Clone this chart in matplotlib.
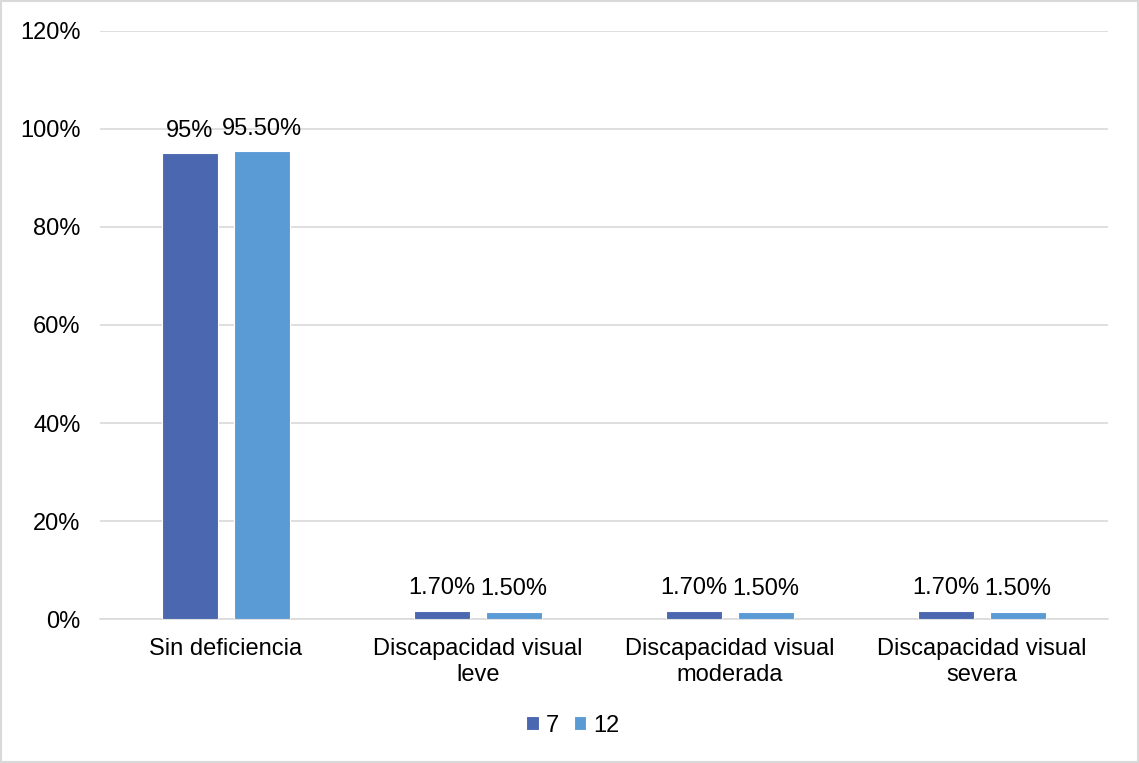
import matplotlib
matplotlib.use('Agg')
import matplotlib.pyplot as plt
import numpy as np

categories = ['Sin deficiencia', 'Discapacidad visual\nleve',
              'Discapacidad visual\nmoderada', 'Discapacidad visual\nsevera']
series_names = ['7', '12']
values_7 = [95, 1.7, 1.7, 1.7]
values_12 = [95.5, 1.5, 1.5, 1.5]
labels_7 = ['95%', '1.70%', '1.70%', '1.70%']
labels_12 = ['95.50%', '1.50%', '1.50%', '1.50%']
colors = ['#4A67B0', '#5B9BD5']

plt.rcParams['font.family'] = ['Liberation Sans', 'DejaVu Sans']
fs = 17

fig = plt.figure(figsize=(11.39, 7.63), dpi=100)
ax = fig.add_axes([0.0878, 0.1887, 0.885, 0.7707])

x = np.arange(len(categories))
w = 0.222
off = 0.143
b1 = ax.bar(x - off, values_7, w, color=colors[0], edgecolor='white', linewidth=0.8,
            label=series_names[0], zorder=3)
b2 = ax.bar(x + off, values_12, w, color=colors[1], edgecolor='white', linewidth=0.8,
            label=series_names[1], zorder=3)

for bars, labs in ((b1, labels_7), (b2, labels_12)):
    for bar, lab in zip(bars, labs):
        ax.text(bar.get_x() + bar.get_width() / 2, bar.get_height() + 2.3, lab,
                ha='center', va='bottom', fontsize=fs, color='#000000', zorder=4)

ax.set_xlim(-0.5, len(categories) - 0.5)
ax.set_ylim(0, 120)
ax.set_yticks(range(0, 121, 20))
ax.set_yticklabels([f'{t}%' for t in range(0, 121, 20)], fontsize=fs)
ax.set_xticks(x)
ax.set_xticklabels(categories, fontsize=fs, linespacing=1.2)
ax.tick_params(length=0)
ax.tick_params(axis='x', pad=14)
ax.tick_params(axis='y', pad=14)
ax.grid(axis='y', color='#D9D9D9', linewidth=1.2, zorder=0)
for s in ['top', 'right', 'left']:
    ax.spines[s].set_visible(False)
ax.spines['bottom'].set_color('#D9D9D9')
ax.spines['bottom'].set_linewidth(1.2)

fig.legend(loc='center', bbox_to_anchor=(0.503, 0.049), ncol=2, frameon=False,
           fontsize=fs, handlelength=0.55, handleheight=0.55, handletextpad=0.3,
           columnspacing=0.6)

border = plt.Rectangle((0.001, 0.001), 0.998, 0.998, transform=fig.transFigure,
                       fill=False, edgecolor='#D9D9D9', linewidth=1.5)
fig.add_artist(border)

plt.savefig('out.png', dpi=100)
plt.close()
